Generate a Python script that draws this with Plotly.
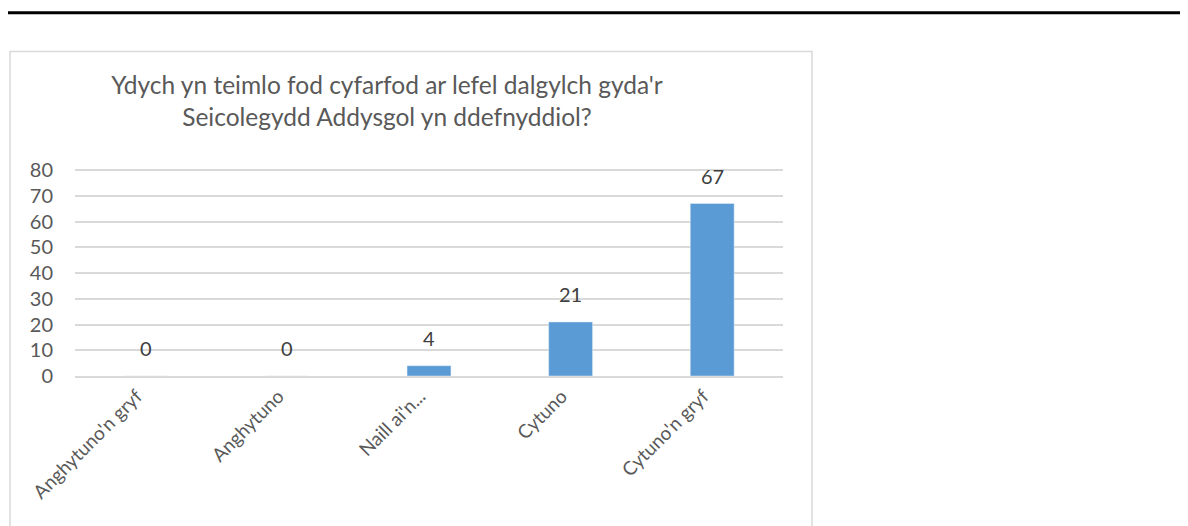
import plotly.graph_objects as go

# survey responses
categories = ["Anghytuno'n gryf", "Anghytuno", "Naill ai'n...", "Cytuno", "Cytuno'n gryf"]
counts = [0, 0, 4, 21, 67]
title_text = "Ydych yn teimlo fod cyfarfod ar lefel dalgylch gyda'r<br>Seicolegydd Addysgol yn ddefnyddiol?"

GREY = "#595959"
FONT = "Lato"
OFF = 8  # page body margin shifts the figure by this much

# plot area in reference pixels
L, R, T, B = 75, 783, 169, 376
YMAX = 80.4

fig = go.Figure()
fig.add_trace(go.Bar(x=categories, y=counts, marker_color="#5B9BD5", hoverinfo="x+y"))

# data labels sit well above the bars, like the Office default
for c, v in zip(categories, counts):
    fig.add_annotation(x=c, y=v, text=str(v), showarrow=False, yanchor="middle",
                       yshift=28, font=dict(size=20, color="#404040", family=FONT))

fig.update_layout(
    width=1188, height=526,
    margin=dict(l=L - OFF, r=1188 - (R - OFF), t=T - OFF, b=526 - (B - OFF)),
    paper_bgcolor="white", plot_bgcolor="white",
    bargap=0.69, showlegend=False,
    font=dict(family=FONT, color=GREY, size=16),
    title=dict(text=title_text, x=(387 - OFF) / 1188, xanchor="center",
               y=1 - (94 - OFF) / 526, yanchor="top",
               font=dict(size=24.5, color=GREY, family=FONT)),
)
fig.update_xaxes(tickangle=-45, showline=True, linecolor="#d9d9d9", linewidth=1.5,
                 tickfont=dict(size=19, color=GREY), ticks="", ticklabelshift=-9)
fig.update_yaxes(range=[0, YMAX], tickvals=list(range(0, 81, 10)), showgrid=True,
                 gridcolor="#d9d9d9", gridwidth=1.5, zeroline=False, showline=False,
                 tickfont=dict(size=20, color=GREY),
                 ticks="outside", ticklen=17, tickcolor="rgba(0,0,0,0)")

# chart border and top rule (paper coords from reference pixel positions)
def px(x):
    return (x - L) / (R - L)

def py(y):
    return (B - y) / (B - T) * 80 / YMAX

fig.add_shape(type="rect", xref="paper", yref="paper",
              x0=px(10), x1=px(812), y0=py(545), y1=py(50),
              line=dict(color="#d9d9d9", width=1.5), layer="below")
fig.add_shape(type="line", xref="paper", yref="paper",
              x0=px(-20), x1=px(1200), y0=py(11), y1=py(11),
              line=dict(color="black", width=3))

fig.write_html("out.html")
